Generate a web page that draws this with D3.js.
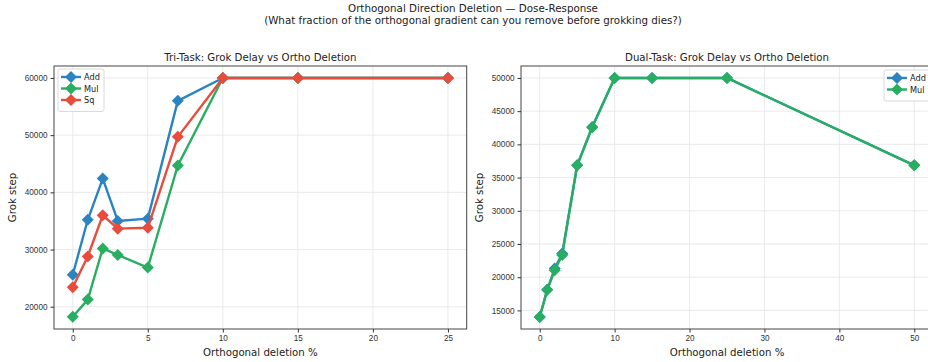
<!DOCTYPE html>
<html>
<head>
<meta charset="utf-8">
<script src="https://cdn.jsdelivr.net/npm/d3@7"></script>
<style>
  body { margin: 0; background: #fff; }
  svg { font-family: "DejaVu Sans", sans-serif; display: block; }
  .axis text { font-size: 8.2px; fill: #333; }
  .axis path, .axis line { stroke: #333; }
</style>
</head>
<body>
<div id="chart"></div>
<script>
// ---- data ----
var triX = [0, 1, 2, 3, 5, 7, 10, 15, 25];
var triAdd = [25600, 35200, 42400, 35000, 35400, 56000, 60000, 60000, 60000];
var triMul = [18250, 21250, 30200, 29050, 26850, 44700, 60000, 60000, 60000];
var triSq  = [23400, 28800, 36000, 33650, 33800, 49700, 60000, 60000, 60000];

var dualX = [0, 1, 2, 3, 5, 7, 10, 15, 25, 50];
var dualAdd = [14000, 18100, 21300, 23550, 36850, 42600, 50000, 50000, 50000, 36850];
var dualMul = [14000, 18100, 21050, 23350, 36850, 42550, 50000, 50000, 50000, 36850];

var triXTicks = [0, 5, 10, 15, 20, 25];
var triYTicks = [20000, 30000, 40000, 50000, 60000];
var dualXTicks = [0, 10, 20, 30, 40, 50];
var dualYTicks = [15000, 20000, 25000, 30000, 35000, 40000, 45000, 50000];

var colors = { Add: "#2b83c0", Mul: "#27ae60", Sq: "#e74c3c" };

var width = 928, height = 362;
var svg = d3.select("#chart").append("svg")
    .attr("width", width)
    .attr("height", height);

// figure titles
svg.append("text").attr("x", 473).attr("y", 12)
    .attr("text-anchor", "middle").attr("font-size", "10.3px").attr("fill", "#222")
    .text("Orthogonal Direction Deletion \u2014 Dose-Response");
svg.append("text").attr("x", 473).attr("y", 24)
    .attr("text-anchor", "middle").attr("font-size", "10.3px").attr("fill", "#222")
    .text("(What fraction of the orthogonal gradient can you remove before grokking dies?)");

function diamond(g, x, y, color) {
    var s = 6;
    g.append("path")
        .attr("d", "M" + x + "," + (y - s) + "L" + (x + s) + "," + y +
                   "L" + x + "," + (y + s) + "L" + (x - s) + "," + y + "Z")
        .attr("fill", color);
}

function panel(args) {
    var g = svg.append("g");
    var x = d3.scaleLinear().domain(args.xDomain).range([args.left, args.right]);
    var y = d3.scaleLinear().domain(args.yDomain).range([args.bottom, args.top]);

    // grid
    g.selectAll(".gx").data(args.xTicks).enter().append("line")
        .attr("x1", function(d) { return x(d); }).attr("x2", function(d) { return x(d); })
        .attr("y1", args.top).attr("y2", args.bottom)
        .attr("stroke", "#e4e4e4").attr("stroke-width", 0.8);
    g.selectAll(".gy").data(args.yTicks).enter().append("line")
        .attr("y1", function(d) { return y(d); }).attr("y2", function(d) { return y(d); })
        .attr("x1", args.left).attr("x2", args.right)
        .attr("stroke", "#e4e4e4").attr("stroke-width", 0.8);

    // series
    var line = d3.line()
        .x(function(d) { return x(d[0]); })
        .y(function(d) { return y(d[1]); });
    args.series.forEach(function(s) {
        var pts = args.xs.map(function(v, i) { return [v, s.values[i]]; });
        g.append("path").datum(pts)
            .attr("d", line)
            .attr("fill", "none")
            .attr("stroke", colors[s.name])
            .attr("stroke-width", 2.4)
            .attr("stroke-linejoin", "round");
        pts.forEach(function(p) { diamond(g, x(p[0]), y(p[1]), colors[s.name]); });
    });

    // frame
    g.append("rect")
        .attr("x", args.left).attr("y", args.top)
        .attr("width", args.right - args.left).attr("height", args.bottom - args.top)
        .attr("fill", "none").attr("stroke", "#444").attr("stroke-width", 1);

    // axes
    g.append("g").attr("class", "axis")
        .attr("transform", "translate(0," + args.bottom + ")")
        .call(d3.axisBottom(x).tickValues(args.xTicks).tickSizeOuter(0).tickSize(3.5).tickPadding(3))
        .select(".domain").remove();
    g.append("g").attr("class", "axis")
        .attr("transform", "translate(" + args.left + ",0)")
        .call(d3.axisLeft(y).tickValues(args.yTicks).tickFormat(d3.format("d"))
              .tickSizeOuter(0).tickSize(3.5).tickPadding(3))
        .select(".domain").remove();

    // labels
    var cx = (args.left + args.right) / 2;
    g.append("text").attr("x", args.titleX || cx).attr("y", args.top - 5)
        .attr("text-anchor", "middle").attr("font-size", "10.2px").attr("fill", "#222")
        .text(args.title);
    g.append("text").attr("x", cx).attr("y", args.bottom + 27)
        .attr("text-anchor", "middle").attr("font-size", "10.2px").attr("fill", "#222")
        .text("Orthogonal deletion %");
    g.append("text")
        .attr("transform", "translate(" + args.ylabelX + "," + ((args.top + args.bottom) / 2) + ") rotate(-90)")
        .attr("text-anchor", "middle").attr("font-size", "10.2px").attr("fill", "#222")
        .text("Grok step");

    // legend
    var lg = g.append("g").attr("transform", "translate(" + args.legendX + "," + args.legendY + ")");
    var n = args.series.length;
    lg.append("rect").attr("x", 0).attr("y", 0)
        .attr("width", 46).attr("height", 8 + n * 11.5)
        .attr("rx", 2).attr("fill", "#fff").attr("fill-opacity", 0.85)
        .attr("stroke", "#d0d0d0").attr("stroke-width", 0.8);
    args.series.forEach(function(s, i) {
        var yy = 8 + i * 11.5;
        lg.append("line").attr("x1", 3).attr("x2", 23).attr("y1", yy).attr("y2", yy)
            .attr("stroke", colors[s.name]).attr("stroke-width", 2.4);
        diamond(lg, 13, yy, colors[s.name]);
        lg.append("text").attr("x", 26).attr("y", yy + 3)
            .attr("font-size", "8.2px").attr("fill", "#222").text(s.name);
    });
}

panel({
    left: 54, right: 466.7, top: 66, bottom: 329,
    xDomain: [-1.25, 26.25], yDomain: [16110, 62090],
    xTicks: triXTicks, yTicks: triYTicks, xs: triX,
    series: [{ name: "Add", values: triAdd }, { name: "Mul", values: triMul }, { name: "Sq", values: triSq }],
    title: "Tri-Task: Grok Delay vs Ortho Deletion",
    ylabelX: 16, legendX: 58, legendY: 69
});

panel({
    left: 521, right: 933, top: 66, bottom: 329,
    xDomain: [-2.5, 52.5], yDomain: [12200, 51800],
    xTicks: dualXTicks, yTicks: dualYTicks, xs: dualX,
    series: [{ name: "Add", values: dualAdd }, { name: "Mul", values: dualMul }],
    title: "Dual-Task: Grok Delay vs Ortho Deletion",
    ylabelX: 483, legendX: 884, legendY: 70
});
</script>
</body>
</html>
